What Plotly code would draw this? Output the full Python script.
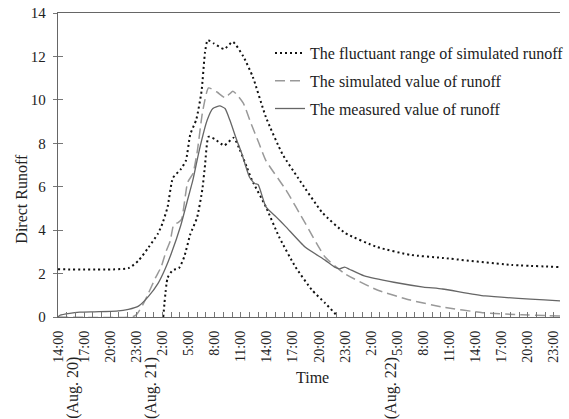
import plotly.graph_objects as go

# Hours since 14:00 Aug. 20
measured_t = [0, 0.23, 1.35, 2.5, 4.2, 6.7, 8.1, 9.25, 10.4, 11.5, 12.3, 13.0, 14.1, 14.9, 15.5,
              16.25, 17.15, 17.8, 18.6, 19.2, 19.75, 20.5, 21.1, 22.0, 22.6, 23.0, 23.9, 25.1,
              26.2, 28.4, 30.7, 31.8, 32.4, 32.95, 33.5, 35.2, 38.6, 42.0, 44.2, 49.1, 57.7]
measured_v = [0, 0.08, 0.17, 0.22, 0.24, 0.27, 0.35, 0.5, 0.95, 1.55, 2.2, 2.9, 4.2, 5.4, 6.3,
              7.7, 9.07, 9.6, 9.72, 9.6, 9.07, 8.2, 7.55, 6.45, 6.15, 6.1, 5.07, 4.6,
              4.15, 3.22, 2.62, 2.3, 2.22, 2.3, 2.2, 1.89, 1.6, 1.38, 1.29, 0.97, 0.74]

sim_t = [0, 8.5, 9.0, 9.8, 10.4, 11.2, 11.85, 12.4, 12.9, 13.3, 13.8, 14.2, 14.9, 15.5, 16.0,
         16.6, 17.3, 18.3, 19.2, 20.1, 20.65, 21.3, 22.2, 23.1, 23.9, 26.2, 28.4, 30.7, 32.95,
         36.7, 40.5, 44.2, 48.8, 53.3, 57.7]
sim_v = [0, 0, 0.1, 0.6, 1.1, 1.8, 2.3, 3.0, 3.5, 4.25, 4.35, 4.5, 6.2, 6.6, 7.6,
         9.4, 10.55, 10.35, 10.1, 10.4, 10.2, 9.85, 8.9, 8.0, 7.2, 5.85, 4.33, 2.76, 2.0,
         1.24, 0.78, 0.46, 0.2, 0.1, 0.05]

upper_t = [0, 8.1, 9.25, 10.4, 11.5, 12.0, 12.6, 13.2, 14.1, 14.7, 15.2, 15.9, 16.5, 16.9, 17.2,
           17.9, 19.1, 20.1, 21.3, 22.4, 23.9, 25.8, 27.6, 30.4, 33.0, 36.7, 40.5, 44.2, 52.1, 57.7]
upper_v = [2.2, 2.25, 2.6, 3.2, 3.85, 4.3, 5.07, 6.4, 6.8, 7.2, 8.4, 9.1, 10.4, 12.2, 12.75,
           12.6, 12.34, 12.67, 12.0, 11.05, 9.2, 7.5, 6.4, 4.8, 3.87, 3.22, 2.86, 2.72, 2.4, 2.3]

lower_t = [12.1, 12.6, 13.2, 13.9, 14.5, 15.2, 16.0, 16.6, 16.9, 17.3, 18.0, 19.1, 20.2, 20.9,
           21.7, 22.3, 23.9, 25.4, 27.3, 29.2, 30.7, 32.1]
lower_v = [0, 1.8, 2.16, 2.25, 2.76, 3.8, 4.6, 5.9, 7.0, 8.3, 8.2, 7.9, 8.25, 7.7,
           6.9, 6.3, 5.07, 3.7, 2.3, 1.24, 0.64, 0.05]

tick_hours = [0, 3, 6, 9, 12, 15, 18, 21, 24, 27, 30, 33, 36, 39, 42, 45, 48, 51, 54, 57]
tick_text = ["14:00", "17:00", "20:00", "23:00", "2:00", "5:00", "8:00", "11:00", "14:00",
             "17:00", "20:00", "23:00", "2:00", "5:00", "8:00", "11:00", "14:00", "17:00",
             "20:00", "23:00"]
date_labels = ["(Aug. 20)", "(Aug. 21)", "(Aug. 22)"]
date_hours = [1.7, 10.7, 38.3]

FONT = "Liberation Serif"
TXT = "#222222"

fig = go.Figure()
fig.add_trace(go.Scatter(x=upper_t, y=upper_v, mode="lines", name="The fluctuant range of simulated runoff",
                         line=dict(color="#111111", width=2, dash="2px,3px", shape="spline", smoothing=0.5),
                         legendgroup="a"))
fig.add_trace(go.Scatter(x=lower_t, y=lower_v, mode="lines", showlegend=False,
                         line=dict(color="#111111", width=2, dash="2px,3px", shape="spline", smoothing=0.5),
                         legendgroup="a"))
fig.add_trace(go.Scatter(x=sim_t, y=sim_v, mode="lines", name="The simulated value of runoff",
                         line=dict(color="#999999", width=1.5, dash="10px,5px", shape="spline", smoothing=0.5),
                         legendgroup="b"))
fig.add_trace(go.Scatter(x=measured_t, y=measured_v, mode="lines", name="The measured value of runoff",
                         line=dict(color="#666666", width=1.3, shape="spline", smoothing=0.5),
                         legendgroup="c"))

# dummy trace for overlay y axis (inside ticks)
fig.add_trace(go.Scatter(x=[None], y=[None], yaxis="y2", showlegend=False, hoverinfo="skip"))

annotations = []
for lbl, h in zip(date_labels, date_hours):
    annotations.append(dict(x=h, xref="x", y=(317 - 388) / 304, yref="paper", text=lbl, showarrow=False,
                            xanchor="center", yanchor="middle",
                            textangle=-90, font=dict(family=FONT, size=16, color=TXT)))
annotations.append(dict(x=(317 - 58) / 511, xref="paper", y=(317 - 377) / 304, yref="paper",
                        xanchor="center", yanchor="middle",
                        text="Time", showarrow=False, font=dict(family=FONT, size=16, color=TXT)))
annotations.append(dict(x=(20 - 58) / 511, xref="paper", y=(317 - 199) / 304, yref="paper",
                        xanchor="center", yanchor="middle",
                        text="Direct Runoff", showarrow=False, textangle=-90,
                        font=dict(family=FONT, size=16, color=TXT)))

fig.update_layout(
    width=569, height=419,
    margin=dict(l=58, r=0, t=13, b=102),
    paper_bgcolor="white", plot_bgcolor="white",
    font=dict(family=FONT, size=16, color=TXT),
    showlegend=True,
    legend=dict(x=(274 - 58) / 511, xanchor="left", y=(317 - 36) / 304, yanchor="top",
                bgcolor="rgba(0,0,0,0)", traceorder="grouped", tracegroupgap=4,
                font=dict(family=FONT, size=16, color=TXT)),
    xaxis=dict(range=[0, 57.7], tickmode="array", tickvals=tick_hours, ticktext=tick_text,
               tickangle=-90, ticks="inside", ticklen=5, tickcolor="#777", tickwidth=1,
               showline=True, linecolor="#666", linewidth=1.3, mirror=True, automargin=False,
               showgrid=False, zeroline=False, ticklabelstandoff=7,
               tickfont=dict(family=FONT, size=14, color=TXT),
               minor=dict(tickmode="linear", tick0=0, dtick=1, ticks="inside", ticklen=5,
                          tickcolor="#777", tickwidth=1, showgrid=False)),
    yaxis=dict(range=[0, 14], tickvals=[0, 2, 4, 6, 8, 10, 12, 14], ticks="outside", ticklen=4,
               tickcolor="#777", showline=True, linecolor="#666", linewidth=1.3, automargin=False,
               showgrid=False, zeroline=False, ticklabelstandoff=4,
               tickfont=dict(family=FONT, size=15, color=TXT)),
    yaxis2=dict(range=[0, 14], overlaying="y", side="left", tickvals=[0, 2, 4, 6, 8, 10, 12, 14],
                ticks="inside", ticklen=5, tickcolor="#777", showticklabels=False, automargin=False,
                showline=False, showgrid=False, zeroline=False),
    annotations=annotations,
)

fig.write_html("out.html", config={"displayModeBar": False},
               post_script="document.body.style.margin='0';")
